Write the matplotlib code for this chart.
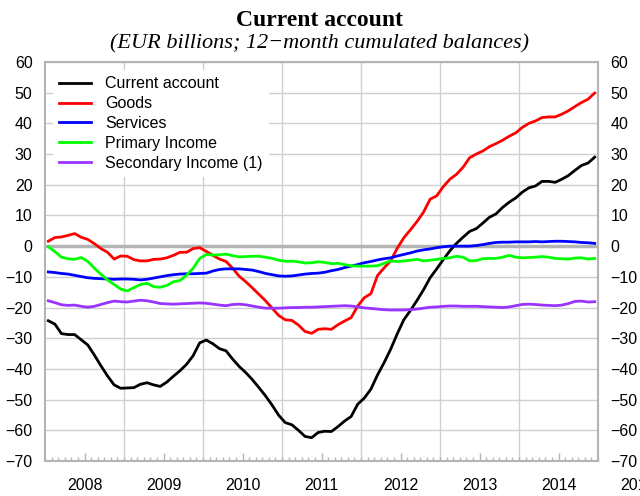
import matplotlib
matplotlib.use("Agg")
import matplotlib.pyplot as plt
import numpy as np

# monthly data, Jan 2008 .. Dec 2014 (EUR billions)
current_account = [-24.3, -25.4, -28.5, -28.8, -28.8, -30.5, -32.2, -35.5, -39.0, -42.3, -45.2, -46.3,
                   -46.2, -46.1, -45.0, -44.5, -45.2, -45.7, -44.3, -42.4, -40.6, -38.5, -35.7, -31.5,
                   -30.6, -31.8, -33.4, -34.1, -36.8, -39.2, -41.2, -43.5, -46.1, -48.8, -51.8, -55.1,
                   -57.5, -58.2, -60.0, -62.0, -62.4, -60.7, -60.3, -60.4, -58.8, -57.0, -55.5, -51.5,
                   -49.5, -46.6, -42.0, -38.0, -33.6, -28.6, -24.0, -21.0, -17.7, -14.2, -10.3, -7.4,
                   -4.4, -1.5, 0.9, 2.9, 4.8, 5.7, 7.5, 9.4, 10.5, 12.6, 14.3, 15.7,
                   17.6, 19.0, 19.6, 21.1, 21.1, 20.8, 21.8, 23.0, 24.7, 26.3, 27.1, 29.0]
goods = [1.6, 2.8, 3.0, 3.5, 4.1, 2.9, 2.2, 0.8, -0.8, -2.0, -4.2, -3.2,
         -3.3, -4.4, -4.8, -4.8, -4.3, -4.2, -3.8, -3.0, -2.0, -2.0, -0.8, -0.5,
         -1.7, -3.0, -4.2, -5.0, -7.2, -9.8, -11.6, -13.6, -15.7, -17.8, -20.2, -22.6,
         -24.0, -24.2, -25.7, -27.8, -28.4, -27.1, -26.9, -27.1, -25.6, -24.4, -23.3, -19.5,
         -16.8, -15.5, -9.6, -7.1, -4.8, -0.7, 2.7, 5.3, 8.0, 11.1, 15.3, 16.4,
         19.4, 21.8, 23.4, 25.7, 28.8, 30.0, 31.0, 32.4, 33.4, 34.5, 35.8, 36.9,
         38.7, 40.0, 40.8, 41.9, 42.1, 42.1, 43.0, 44.1, 45.5, 46.8, 47.9, 49.9]
services = [-8.4, -8.6, -8.9, -9.1, -9.5, -9.9, -10.3, -10.5, -10.6, -10.7, -10.8, -10.7,
            -10.7, -10.8, -11.0, -10.8, -10.4, -10.0, -9.6, -9.3, -9.1, -9.0, -9.0, -8.9,
            -8.8, -8.1, -7.6, -7.4, -7.4, -7.4, -7.6, -7.8, -8.3, -8.9, -9.3, -9.7,
            -9.8, -9.7, -9.4, -9.1, -8.9, -8.8, -8.5, -8.0, -7.6, -7.0, -6.5, -6.0,
            -5.4, -5.0, -4.5, -4.1, -3.8, -3.2, -2.7, -2.2, -1.6, -1.2, -0.9, -0.5,
            -0.2, 0.0, 0.0, 0.0, 0.0, 0.2, 0.5, 0.9, 1.2, 1.3, 1.3, 1.4,
            1.4, 1.4, 1.5, 1.4, 1.5, 1.6, 1.6, 1.5, 1.4, 1.2, 1.1, 0.9]
primary_income = [-0.2, -1.8, -3.6, -4.1, -4.3, -3.7, -5.0, -7.2, -9.2, -11.0, -12.5, -14.0,
                  -14.6, -13.5, -12.5, -12.1, -13.2, -13.4, -12.8, -11.6, -11.2, -9.5, -7.2, -4.0,
                  -2.7, -2.9, -2.8, -2.6, -3.1, -3.5, -3.4, -3.3, -3.3, -3.6, -4.0, -4.6,
                  -4.9, -4.9, -5.1, -5.5, -5.4, -5.1, -5.3, -5.7, -5.6, -6.0, -6.4, -6.5,
                  -6.5, -6.5, -6.4, -5.6, -4.8, -5.0, -4.8, -4.6, -4.3, -4.8, -4.6, -4.3,
                  -4.0, -3.8, -3.3, -3.6, -4.8, -4.7, -4.1, -4.0, -4.0, -3.6, -3.0, -3.6,
                  -3.8, -3.7, -3.6, -3.4, -3.6, -4.0, -4.1, -4.2, -3.9, -3.8, -4.2, -4.0]
secondary_income = [-17.8, -18.4, -19.1, -19.3, -19.2, -19.6, -19.9, -19.6, -19.0, -18.4, -17.9, -18.1,
                    -18.2, -17.9, -17.6, -17.8, -18.2, -18.7, -18.8, -18.9, -18.8, -18.7, -18.6, -18.5,
                    -18.6, -18.9, -19.2, -19.4, -19.0, -18.9, -19.1, -19.5, -19.9, -20.2, -20.2, -20.2,
                    -20.1, -20.0, -20.0, -19.9, -19.9, -19.8, -19.7, -19.6, -19.5, -19.4, -19.5, -19.8,
                    -20.1, -20.3, -20.5, -20.7, -20.8, -20.8, -20.8, -20.7, -20.5, -20.2, -19.9, -19.8,
                    -19.6, -19.5, -19.5, -19.6, -19.6, -19.6, -19.7, -19.8, -19.9, -20.0, -19.8, -19.4,
                    -19.0, -18.9, -19.0, -19.2, -19.3, -19.4, -19.2, -18.7, -18.0, -17.9, -18.2, -18.1]

series = [
    ("Current account", current_account, "black"),
    ("Goods", goods, "red"),
    ("Services", services, "blue"),
    ("Primary Income", primary_income, "#00ff00"),
    ("Secondary Income (1)", secondary_income, "#9933ff"),
]
years = [2008, 2009, 2010, 2011, 2012, 2013, 2014, 2015]

# mid-month positions in decimal years
months = np.arange(len(current_account))
x = 2008 + (months + 0.5) / 12

sans = ["Liberation Sans", "DejaVu Sans"]
serif = ["Liberation Serif", "DejaVu Serif"]
plt.rcParams["font.family"] = sans
plt.rcParams["font.size"] = 11.5

fig = plt.figure(figsize=(6.4, 4.96), dpi=100)
ax = fig.add_axes([45 / 640, 1 - 461 / 496, (598 - 45) / 640, (461 - 62) / 496])

grid_col = "#d0d0d0"
spine_col = "#b4b4b4"

# grille
for yv in range(-60, 61, 10):
    if yv != 0:
        ax.axhline(yv, color=grid_col, lw=1, zorder=1)
for yr in years[1:-1]:
    ax.axvline(yr, color=grid_col, lw=1, zorder=1)
ax.axhline(0, color=spine_col, lw=2.5, zorder=1)

for label, vals, col in series:
    ax.plot(x, vals, color=col, lw=2, label=label, zorder=3)

ax.set_xlim(2008, 2015)
ax.set_ylim(-70, 60)
ax.set_yticks(range(-70, 61, 10))
ax.tick_params(axis="y", length=0, pad=9, labelright=True, right=False)

ax.set_xticks([y + 0.5 for y in years[:-1]])
ax.set_xticklabels([str(y) for y in years[:-1]])
ax.set_xticks(2008 + np.arange(0, 85) / 12, minor=True)
ax.tick_params(axis="x", which="major", direction="in", length=6, width=1, color=spine_col, pad=12)
ax.tick_params(axis="x", which="minor", direction="in", length=3, width=1, color=spine_col)

# libellé 2015 coupé au bord de la figure
ax.annotate(str(years[-1]), xy=(years[-1] + 0.5, 0), xycoords=("data", "axes fraction"),
            xytext=(0, -12), textcoords="offset points", ha="center", va="top",
            annotation_clip=False)

for s in ax.spines.values():
    s.set_color(spine_col)
    s.set_linewidth(1.5)

leg = ax.legend(loc="upper left", frameon=True, handlelength=2.0, handletextpad=0.85,
                labelspacing=0.3, fontsize=11.5)
leg.get_frame().set_facecolor("white")
leg.get_frame().set_edgecolor("none")
leg.get_frame().set_alpha(1)
leg.set_zorder(5)

fig.text(0.5, 1 - 21 / 496, "Current account", ha="center", va="center",
         fontsize=17, fontweight="bold", family=serif)
fig.text(0.5, 1 - 44 / 496, "(EUR billions; 12\u2212month cumulated balances)", ha="center",
         va="center", fontsize=16, style="italic", family=serif)

fig.savefig("out.png", dpi=100)
